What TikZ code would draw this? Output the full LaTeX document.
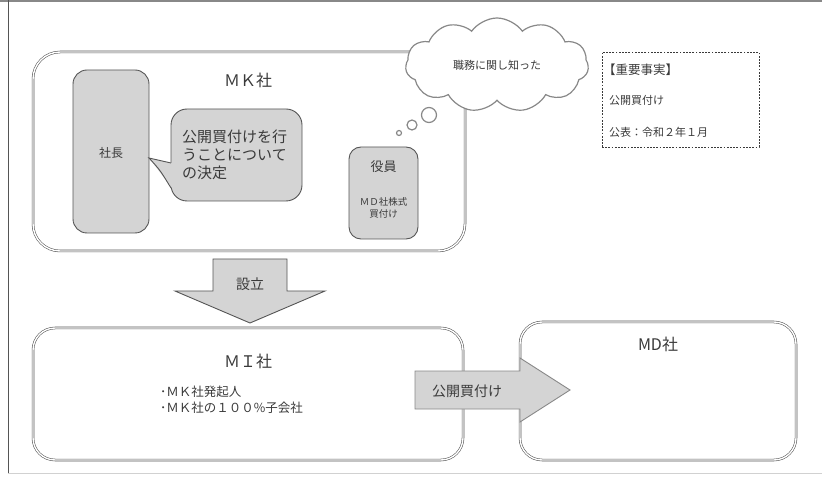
\documentclass[tikz,border=0pt]{standalone}
\usepackage{fontspec}
\setmainfont{Noto Sans CJK JP}
\usetikzlibrary{shapes.symbols}
\definecolor{boxfill}{HTML}{D4D4D4}
\definecolor{ink}{HTML}{3A3A3A}
\definecolor{edge}{HTML}{555555}
\definecolor{soft}{HTML}{888888}
\newcommand{\fs}[2]{\fontsize{#1}{#2}\selectfont}
\begin{document}
\begin{tikzpicture}[x=1pt,y=-1pt,
  every node/.style={text=ink, inner sep=0pt},
  company/.style={draw=edge, double=white, double distance=1.4pt, line width=0.55pt, rounded corners=27pt},
  graybox/.style={draw=edge, fill=boxfill, line width=0.9pt},
  bigarrow/.style={draw=edge, fill=boxfill, line width=0.9pt, line join=miter},
  puff/.style={draw=soft, fill=white, line width=1.2pt},
  factbox/.style={draw=ink, dash pattern=on 1.8pt off 1.4pt, line width=0.7pt}
]
\useasboundingbox (0,0) rectangle (822,478);
% frame
\draw[soft, line width=1.6pt] (0,1) -- (822,1);
\draw[edge, line width=0.9pt] (8,0) -- (8,473);
\draw[black!18, line width=1pt] (8,473) -- (822,473);

% MK company
\node[company, minimum width=432pt, minimum height=199pt] (mk) at (249,151.5) {};
\node[font=\fs{16}{18}] (mkt) at (248,80) {ＭＫ社};
\node[graybox, rounded corners=14pt, minimum width=76pt, minimum height=163pt] (pres) at (111,151.5) {};
\node[font=\fs{12}{14}] (prest) at (111,153) {社長};
% speech bubble
\node[graybox, rounded corners=16pt, minimum width=131pt, minimum height=92pt] (bub) at (236.5,155) {};
\coordinate (tipA) at (149,158);
\fill[boxfill] (172,163) -- (tipA) -- (172,188) -- cycle;
\draw[edge, line width=0.9pt] (171,163) -- (tipA) .. controls (160,170) .. (171,188);
\node[font=\fs{15}{18}, align=left, anchor=west] (bubt) at (182,155) {公開買付けを行\\うことについて\\の決定};
% officer
\node[graybox, rounded corners=12pt, minimum width=69pt, minimum height=92pt] (off) at (383.5,193) {};
\node[font=\fs{13}{15}] (offt) at (383.5,167) {役員};
\node[font=\fs{9.5}{12}, align=center] (offs) at (383.5,208) {ＭＤ社株式\\買付け};

% thought
\node[cloud, cloud puffs=11, cloud puff arc=110, aspect=2, puff, minimum width=183pt, minimum height=94pt, font=\fs{11}{13}] (cloud) at (497,65) {職務に関し知った};
\draw[puff] (399,133) circle (2.5);
\draw[puff] (412,125) circle (5);
\draw[puff] (429,115) circle (7.5);

% fact box
\node[factbox, minimum width=157pt, minimum height=95pt] (fact) at (680.5,99.5) {};
\node[font=\fs{12.5}{14}, anchor=west] (f1) at (603,70) {【重要事実】};
\node[font=\fs{11}{13}, anchor=west] (f2) at (609,100) {公開買付け};
\node[font=\fs{11}{13}, anchor=west] (f3) at (609,132) {公表：令和２年１月};

% establish arrow
\draw[bigarrow] (213,259) -- (287,259) -- (287,291) -- (325,291) -- (250,323) -- (175,291) -- (213,291) -- cycle;
\node[font=\fs{14}{16}] (estt) at (250,284) {設立};

% MI company
\node[company, rounded corners=22pt, minimum width=430pt, minimum height=132pt] (mi) at (248,394) {};
\node[font=\fs{16}{18}] (mit) at (248,361) {ＭＩ社};
\node[font=\fs{12.5}{16}, align=left, anchor=west] (mib) at (160,400) {･ＭＫ社発起人\\･ＭＫ社の１００\%子会社};

% MD company
\node[company, rounded corners=22pt, minimum width=276pt, minimum height=138pt] (md) at (658,391) {};
\node[font=\fs{16}{18}] (mdt) at (658,344) {MD社};

% tender offer arrow
\draw[bigarrow, draw=soft] (415,371) -- (520,371) -- (520,358) -- (570,390) -- (520,422) -- (520,409) -- (415,409) -- cycle;
\node[font=\fs{14}{16}] (tobt) at (467,391) {公開買付け};
\end{tikzpicture}
\end{document}
